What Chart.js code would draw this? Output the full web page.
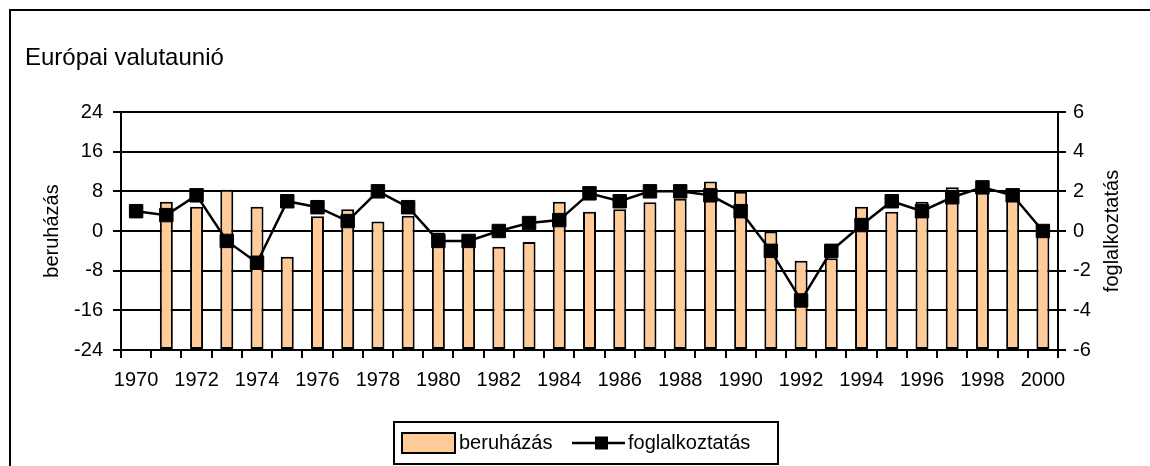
<!DOCTYPE html>
<html>
<head>
<meta charset="utf-8">
<script src="https://cdn.jsdelivr.net/npm/chart.js@4.4.0/dist/chart.umd.min.js"></script>
<style>
  html, body { margin: 0; padding: 0; background: #fff; overflow: hidden; }
  #wrap { position: relative; width: 1150px; height: 466px; }
  #frame { position: absolute; left: 9px; top: 9px; width: 1200px; height: 500px; border: 2px solid #000; box-sizing: border-box; pointer-events: none; }
  #title { position: absolute; left: 25px; top: 43px; font: 24px "Liberation Sans", Arial, sans-serif; color: #000; }
  canvas { position: absolute; left: 0; top: 0; }
</style>
</head>
<body>
<div id="wrap">
  <canvas id="chart" width="1150" height="466"></canvas>
  <div id="frame"></div>
  <div id="title">Európai valutaunió</div>
</div>
<script>
const years = ['1970','1971','1972','1973','1974','1975','1976','1977','1978','1979',
  '1980','1981','1982','1983','1984','1985','1986','1987','1988','1989',
  '1990','1991','1992','1993','1994','1995','1996','1997','1998','1999','2000'];

// beruházás (left axis)
const beruhazas = [null, 5.9, 4.9, 8.3, 4.9, -5.2, 3.0, 4.4, 1.9, 3.1,
  -0.3, -1.5, -3.2, -2.2, 5.9, 3.9, 4.4, 5.8, 6.5, 10.0,
  7.9, -0.1, -6.0, -5.5, 4.9, 3.9, 5.9, 8.8, 8.0, 7.0, -0.5];

// foglalkoztatás (right axis)
const foglalkoztatas = [1.0, 0.8, 1.8, -0.5, -1.6, 1.5, 1.2, 0.5, 2.0, 1.2,
  -0.5, -0.5, 0.0, 0.4, 0.55, 1.9, 1.5, 2.0, 2.0, 1.8,
  1.0, -1.0, -3.5, -1.0, 0.3, 1.5, 1.0, 1.7, 2.2, 1.8, 0.0];

const leftTitle = 'beruházás';
const rightTitle = 'foglalkoztatás';

const FONT = '"Liberation Sans", Arial, sans-serif';
const tickFont = { family: FONT, size: 20 };

// axis titles + boxed legend
const extras = {
  id: 'extras',
  afterDraw(chart) {
    const ctx = chart.ctx;
    const area = chart.chartArea;
    const midY = (area.top + area.bottom) / 2;
    ctx.save();
    ctx.fillStyle = '#000';
    ctx.font = '20px ' + FONT;
    ctx.textAlign = 'center';
    ctx.textBaseline = 'middle';
    [[52, leftTitle], [1112, rightTitle]].forEach(([x, t]) => {
      ctx.save();
      ctx.translate(x, midY);
      ctx.rotate(-Math.PI / 2);
      ctx.fillText(t, 0, 0);
      ctx.restore();
    });

    // legend
    const bar = chart.data.datasets[1];
    const line = chart.data.datasets[0];
    ctx.lineWidth = 2;
    ctx.strokeStyle = '#000';
    ctx.strokeRect(394, 422, 384, 42);
    ctx.fillStyle = bar.backgroundColor;
    ctx.fillRect(402, 433, 53, 20);
    ctx.strokeRect(402, 433, 53, 20);
    ctx.fillStyle = '#000';
    ctx.textAlign = 'left';
    ctx.fillText(bar.label, 459, 443);
    ctx.beginPath();
    ctx.moveTo(572, 443);
    ctx.lineTo(625, 443);
    ctx.lineWidth = line.borderWidth;
    ctx.stroke();
    ctx.fillRect(595, 436.5, 13, 13);
    ctx.fillText(line.label, 628, 443);
    ctx.restore();
  }
};

new Chart(document.getElementById('chart'), {
  type: 'bar',
  data: {
    labels: years,
    datasets: [
      {
        type: 'line',
        label: 'foglalkoztatás',
        data: foglalkoztatas,
        yAxisID: 'y1',
        borderColor: '#000',
        borderWidth: 2.5,
        pointStyle: 'rect',
        pointRadius: 9.5,
        pointBackgroundColor: '#000',
        pointBorderColor: '#000',
        pointBorderWidth: 1,
        tension: 0,
        order: 0
      },
      {
        type: 'bar',
        label: 'beruházás',
        data: beruhazas,
        yAxisID: 'y',
        base: -24,
        backgroundColor: '#FFCC99',
        borderColor: '#000',
        borderWidth: 2,
        borderSkipped: false,
        barPercentage: 0.86,
        categoryPercentage: 0.5,
        order: 1
      }
    ]
  },
  options: {
    responsive: false,
    animation: false,
    devicePixelRatio: 1,
    layout: { padding: { top: 112, left: 0, right: 0, bottom: 0 } },
    plugins: { legend: { display: false }, tooltip: { enabled: false } },
    scales: {
      x: {
        offset: true,
        grid: { offset: true, drawOnChartArea: false, drawTicks: true, tickLength: 8, color: '#000', lineWidth: 2 },
        border: { color: '#000', width: 2 },
        ticks: {
          autoSkip: false, maxRotation: 0, minRotation: 0, padding: 10,
          color: '#000', font: tickFont,
          callback: (v, i) => (i % 2 === 0 ? years[i] : '')
        },
        afterFit: s => { s.height = 116; }
      },
      y: {
        position: 'left',
        min: -24, max: 24,
        grid: { color: '#000', lineWidth: 2, tickLength: 8 },
        border: { color: '#000', width: 2 },
        ticks: { stepSize: 8, padding: 10, color: '#000', font: tickFont },
        afterFit: s => { s.width = 121; }
      },
      y1: {
        position: 'right',
        min: -6, max: 6,
        grid: { drawOnChartArea: false, color: '#000', lineWidth: 2, tickLength: 8 },
        border: { color: '#000', width: 2 },
        ticks: { stepSize: 2, padding: 7, color: '#000', font: tickFont },
        afterFit: s => { s.width = 92; }
      }
    }
  },
  plugins: [extras]
});
</script>
</body>
</html>
